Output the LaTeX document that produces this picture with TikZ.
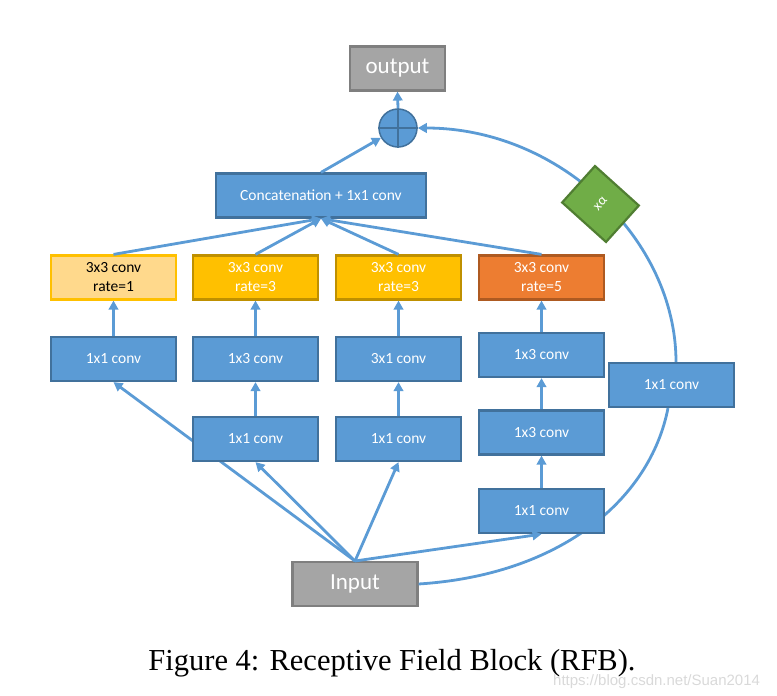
\documentclass[tikz,border=0pt]{standalone}
\usepackage{fontspec}
\usetikzlibrary{arrows.meta,shapes.geometric}
\newfontfamily\calfont{Carlito}
\newfontfamily\capfont{Liberation Serif}
\newfontfamily\wmfont{Liberation Sans}
\definecolor{bfill}{HTML}{5B9BD5}
\definecolor{bdraw}{HTML}{41719C}
\definecolor{gfill}{HTML}{A5A5A5}
\definecolor{gdraw}{HTML}{7F7F7F}
\definecolor{yfill}{HTML}{FFC000}
\definecolor{ydraw}{HTML}{BF9000}
\definecolor{lfill}{HTML}{FFD98C}
\definecolor{ofill}{HTML}{ED7D31}
\definecolor{odraw}{HTML}{AE5A21}
\definecolor{grfill}{HTML}{70AD47}
\definecolor{grdraw}{HTML}{507E32}
\definecolor{wm}{HTML}{D9D9D9}
\tikzset{
  box/.style={draw=bdraw, fill=bfill, line width=2.2pt, minimum width=125pt, minimum height=44pt,
    inner sep=0pt, text=white, align=center, font=\calfont\fontsize{15.5}{19}\selectfont},
  ybox/.style={box, draw=ydraw, fill=yfill},
  lbox/.style={box, draw=yfill, fill=lfill, text=black},
  obox/.style={box, draw=odraw, fill=ofill},
  gbox/.style={box, draw=gdraw, fill=gfill, font=\calfont\fontsize{23}{26}\selectfont},
  conn/.style={draw=bfill, line width=2.8pt},
  arr/.style={conn, -{Triangle[length=9pt,width=9.5pt]}},
}
\begin{document}
\begin{tikzpicture}[x=1pt,y=-1pt]
\useasboundingbox (0,0) rectangle (777,696);
% top nodes
\node[gbox, minimum width=95pt] (out) at (397.5,68.5) {output};
\node[draw=bdraw, fill=bfill, circle, line width=1.5pt, minimum size=38pt, inner sep=0pt] (circ) at (398,128) {};
\draw[bdraw, line width=1.2pt] (circ.north) -- (circ.south) (circ.west) -- (circ.east);
\node[box, minimum width=210pt] (cat) at (321,195.5) {Concatenation + 1x1 conv};
% branch nodes
\node[lbox] (c1) at (113.5,277.5) {3x3 conv\\rate=1};
\node[ybox] (c2) at (255.5,277.5) {3x3 conv\\rate=3};
\node[ybox] (c3) at (398.5,277.5) {3x3 conv\\rate=3};
\node[obox] (c4) at (541.5,277.5) {3x3 conv\\rate=5};
\node[gbox] (in) at (355,584) {Input};
\coordinate (inn) at (355,561);
\node[box] (b1) at (113.5,359) {1x1 conv};
\node[box] (b2) at (255.5,359) {1x3 conv};
\node[box] (b3) at (398.5,359) {3x1 conv};
\node[box] (d4) at (541.5,355) {1x3 conv};
\node[box] (e4) at (541.5,432.5) {1x3 conv};
\node[box] (r) at (671.5,385) {1x1 conv};
% connectors that run behind boxes
\draw[arr] (r.north -| 676,0) .. controls (676,240) and (560,128) .. (circ.east);
\draw[arr] (inn) -- (b1.south);
\draw[conn] (in.east) .. controls (560,575) and (650,500) .. (r.south -| 668,0);
\node[box] (a2) at (255.5,439) {1x1 conv};
\node[box] (a3) at (398.5,439) {1x1 conv};
\node[box] (f4) at (541.5,511) {1x1 conv};
\node[rotate=48, draw=grdraw, fill=grfill, line width=2.2pt, minimum width=49pt, minimum height=59pt, inner sep=0pt,
  text=white, font=\calfont\fontsize{14}{16}\selectfont] (xa) at (600.5,204) {xα};
% arrows
\draw[arr] (inn) -- (a2.south);
\draw[arr] (inn) -- (a3.south);
\draw[arr] (inn) -- (f4.south);
\draw[arr] (a2) -- (b2);
\draw[arr] (a3) -- (b3);
\draw[arr] (b1) -- (c1);
\draw[arr] (b2) -- (c2);
\draw[arr] (b3) -- (c3);
\draw[arr] (f4) -- (e4);
\draw[arr] (e4) -- (d4);
\draw[arr] (d4) -- (c4);
\draw[arr] (c1.north) -- (cat.south);
\draw[arr] (c2.north) -- (cat.south);
\draw[arr] (c3.north) -- (cat.south);
\draw[arr] (c4.north) -- (cat.south);
\draw[arr] (cat.north) -- (circ);
\draw[arr] (circ.north) -- (out.south);
% caption
\node[anchor=base, font=\capfont\fontsize{30.5}{33}\selectfont, inner sep=0pt] (cap) at (392,670) {Figure 4: Receptive Field Block (RFB).};
\node[anchor=base west, font=\wmfont\fontsize{15}{17}\selectfont, text=wm, inner sep=0pt] (wmk) at (553,685) {https://blog.csdn.net/Suan2014};
\end{tikzpicture}
\end{document}
